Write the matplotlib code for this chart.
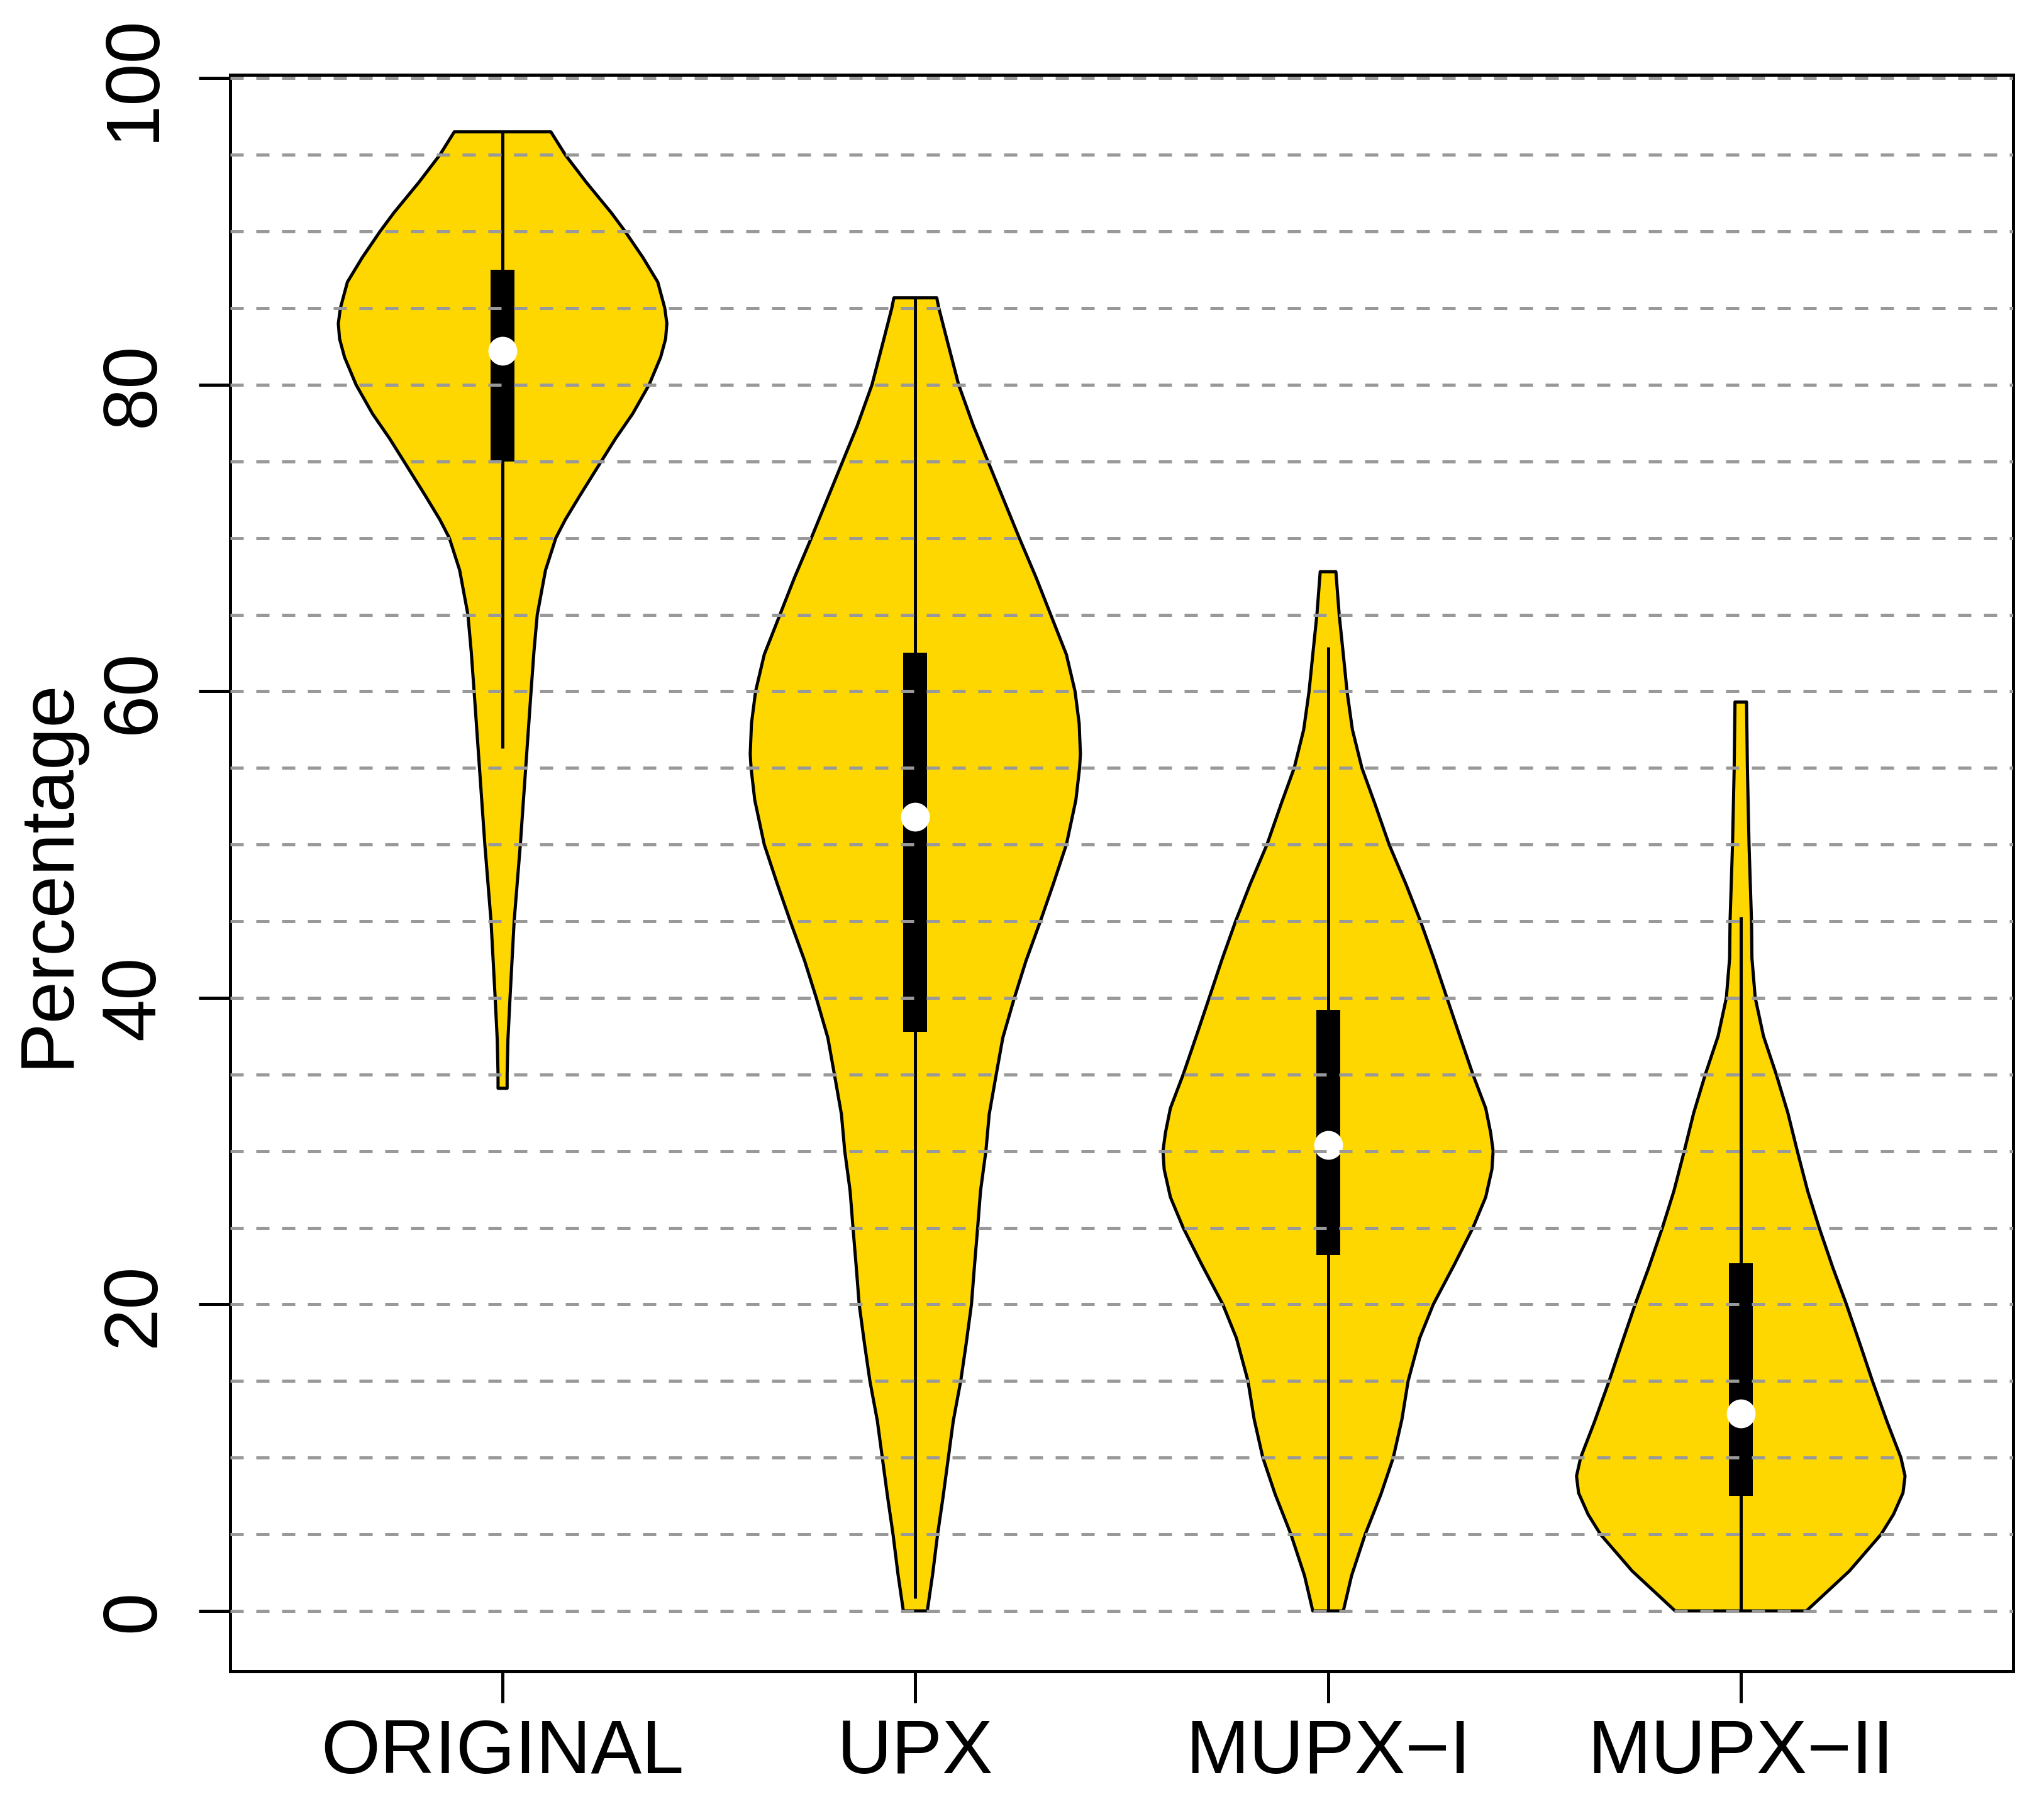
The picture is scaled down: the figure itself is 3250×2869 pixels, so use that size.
import numpy as np
import matplotlib.pyplot as plt

plt.rcParams['font.family'] = ['Liberation Sans', 'DejaVu Sans']

# categories
groups = ['ORIGINAL', 'UPX', 'MUPX\u2212I', 'MUPX\u2212II']

# violin outlines: value -> half width (x units)
orig_y = [96.5, 95, 93.2, 91.2, 90, 88.3, 86.7, 85, 84, 83, 81.8, 80, 78.1, 76.5, 75,
          72.8, 71.2, 70, 67.9, 65, 62.6, 60, 55, 50, 45, 40, 37.3, 35, 34.1]
orig_hw = [0.117, 0.152, 0.203, 0.264, 0.297, 0.340, 0.376, 0.393, 0.398, 0.395, 0.383,
           0.355, 0.315, 0.274, 0.239, 0.188, 0.152, 0.129, 0.104, 0.084, 0.076, 0.069,
           0.056, 0.043, 0.028, 0.018, 0.013, 0.011, 0.011]

upx_y = [85.67, 85, 82.9, 80, 77.3, 75, 72.3, 70, 67.4, 65, 62.4, 60, 57.9, 55.9, 55,
         52.9, 50, 47.4, 45, 42.4, 40, 37.4, 35, 32.4, 30, 27.4, 25, 22.4, 20, 17.4, 15,
         12.4, 10, 7.4, 5, 2.4, 0]
upx_hw = [0.052, 0.057, 0.077, 0.105, 0.141, 0.176, 0.217, 0.252, 0.293, 0.328, 0.366,
          0.387, 0.397, 0.400, 0.398, 0.389, 0.366, 0.334, 0.303, 0.268, 0.240, 0.212,
          0.196, 0.179, 0.171, 0.158, 0.151, 0.143, 0.136, 0.123, 0.110, 0.092, 0.080,
          0.067, 0.054, 0.042, 0.029]

m1_y = [67.8, 65, 62.4, 60, 57.5, 55, 52.7, 50, 47.4, 45, 42.5, 40, 37.6, 35, 32.8, 31.2,
        30, 28.8, 27, 25, 22.6, 20, 17.8, 15, 12.5, 10, 7.6, 5, 2.3, 0]
m1_hw = [0.019, 0.027, 0.037, 0.046, 0.059, 0.082, 0.113, 0.148, 0.189, 0.224, 0.257,
         0.288, 0.318, 0.351, 0.382, 0.394, 0.400, 0.397, 0.382, 0.351, 0.306, 0.255,
         0.222, 0.194, 0.179, 0.158, 0.128, 0.090, 0.057, 0.037]

m2_y = [59.3, 55, 50, 45, 42.6, 40, 37.5, 35, 32.5, 30, 27.4, 25, 22.4, 20, 17.4, 15,
        12.3, 10, 8.8, 7.7, 6.3, 5, 2.6, 0]
m2_hw = [0.014, 0.016, 0.020, 0.026, 0.027, 0.035, 0.055, 0.086, 0.114, 0.137, 0.162,
         0.190, 0.223, 0.256, 0.289, 0.319, 0.355, 0.388, 0.398, 0.393, 0.370, 0.340,
         0.263, 0.159]

# box statistics
q1 = [75.0, 37.8, 23.2, 7.5]
q3 = [87.5, 62.5, 39.2, 22.7]
medians = [82.2, 51.8, 30.4, 12.9]
whisk_lo = [56.3, 0.8, 0.0, 0.0]
whisk_hi = [96.5, 85.6, 62.9, 45.3]

profiles = [(orig_y, orig_hw), (upx_y, upx_hw), (m1_y, m1_hw), (m2_y, m2_hw)]

fig = plt.figure(figsize=(3250 / 300, 2869 / 300), dpi=300)
ax = fig.add_axes([366 / 3250, 1 - 2658 / 2869, (3201 - 366) / 3250, (2658 - 119) / 2869])

pos = np.arange(1, len(groups) + 1)
for p, (ys, hw) in zip(pos, profiles):
    ys = np.array(ys)
    hw = np.array(hw)
    xs = np.concatenate([p + hw, (p - hw)[::-1]])
    yy = np.concatenate([ys, ys[::-1]])
    ax.fill(xs, yy, facecolor='#FFD700', edgecolor='black', lw=1.2,
            joinstyle='round', zorder=2)

ax.vlines(pos, whisk_lo, whisk_hi, color='black', lw=1.2, zorder=3)
ax.bar(pos, np.array(q3) - np.array(q1), bottom=q1, width=0.058, color='black', zorder=3)
ax.plot(pos, medians, 'o', color='white', ms=10, mec='white', zorder=4, ls='none')

# dashed reference lines every 5 %
for v in range(0, 101, 5):
    ax.axhline(v, color='#999999', lw=1.2, ls=(0, (4.2, 4.0)), zorder=5)

ax.set_xlim(0.34, 4.66)
ax.set_ylim(-3.94, 100.22)
ax.set_xticks(pos)
ax.set_xticklabels(groups)
ax.set_yticks([0, 20, 40, 60, 80, 100])
for lab in ax.get_yticklabels():
    lab.set_rotation(90)
    lab.set_va('center')
ax.tick_params(axis='both', length=12, width=1.2, labelsize=29)
ax.tick_params(axis='y', pad=11)
ax.tick_params(axis='x', pad=6)
for s in ax.spines.values():
    s.set_linewidth(1.2)
ax.set_ylabel('Percentage', fontsize=29, labelpad=6)

fig.savefig('out.png', dpi=300)
